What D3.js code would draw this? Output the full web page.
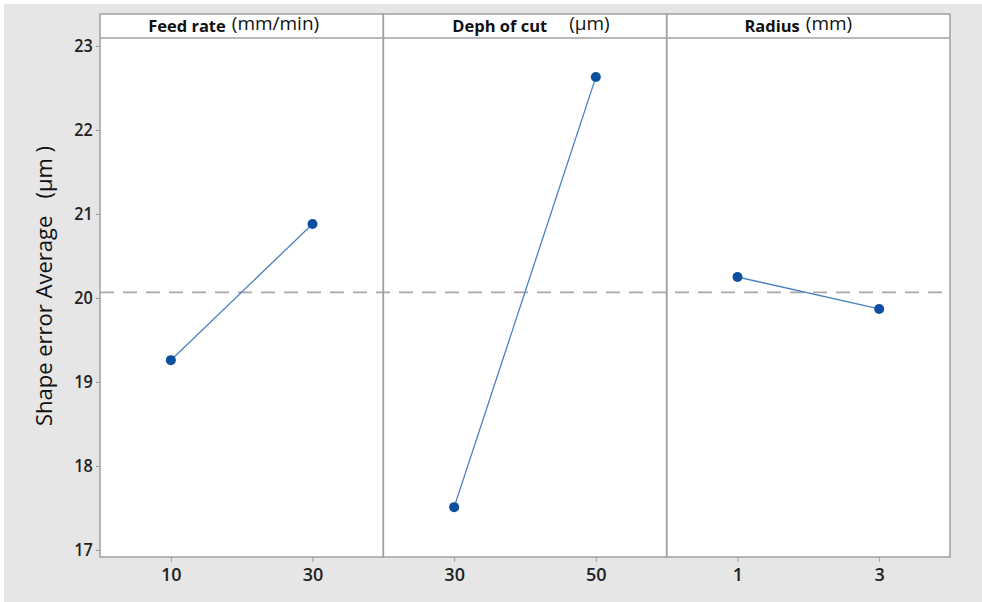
<!DOCTYPE html>
<html>
<head>
<meta charset="utf-8">
<script src="https://cdn.jsdelivr.net/npm/d3@7"></script>
<style>
  body { margin: 0; background: #fff; }
  svg text { font-family: "Open Sans", "Noto Sans", sans-serif; }
</style>
</head>
<body>
<div id="plot"></div>
<script>
// main effects data
const factors = ["Feed rate", "Deph of cut", "Radius"];
const units = ["(mm/min)", "(\u00b5m)", "(mm)"];
const levels = [["10", "30"], ["30", "50"], ["1", "3"]];
const means = [[19.26, 20.88], [17.51, 22.63], [20.25, 19.87]];
const yTicks = [17, 18, 19, 20, 21, 22, 23];

const W = 982, H = 602;
// plot frame
let margin = {top: 14, left: 100, right: 32, bottom: 45};
let stripH = 24;
let width = W - margin.left - margin.right;
let height = H - margin.top - margin.bottom;

let svg = d3.select("#plot")
	.append("svg")
		.attr("width", W)
		.attr("height", H);

// grey backdrop (white sliver on top and left)
svg.append("rect")
	.attr("x", 4).attr("y", 4)
	.attr("width", W - 4).attr("height", H - 4)
	.attr("fill", "#e6e6e6");

let g = svg.append("g")
	.attr("transform", "translate(" + margin.left + "," + margin.top + ")");

g.append("rect")
	.attr("width", width).attr("height", height)
	.attr("fill", "white");

let panel = d3.scaleBand()
	.domain(factors)
	.range([0, width]);

let y = d3.scaleLinear()
	.domain([17, 23])
	.range([536, 32]);

let grand = d3.mean(means.flat());

// y axis
let yAxis = g.append("g")
	.call(d3.axisLeft(y).tickValues(yTicks).tickSize(4).tickPadding(4).tickFormat(d3.format("d")));
yAxis.select(".domain").remove();
yAxis.selectAll("line").attr("stroke", "#999");
yAxis.selectAll("text").attr("font-size", 18).attr("font-weight", 600).attr("fill", "#222")
	.attr("transform", "scale(0.9,1)");

// reference line at grand mean
g.append("line")
	.attr("x1", 0).attr("x2", width)
	.attr("y1", y(grand)).attr("y2", y(grand))
	.attr("stroke", "#a8a8a8")
	.attr("stroke-width", 1.6)
	.attr("stroke-dasharray", "14,9");

factors.forEach((f, i) => {
	let x0 = panel(f);
	let pg = g.append("g").attr("transform", "translate(" + x0 + ",0)");
	let x = d3.scalePoint()
		.domain(levels[i])
		.range([0, panel.bandwidth()])
		.padding(0.5);

	let xAxis = pg.append("g")
		.attr("transform", "translate(0," + height + ")")
		.call(d3.axisBottom(x).tickSize(5).tickPadding(6));
	xAxis.select(".domain").remove();
	xAxis.selectAll("line").attr("stroke", "#999");
	xAxis.selectAll("text").attr("font-size", 18).attr("font-weight", 600).attr("fill", "#222");

	let pts = levels[i].map((l, j) => [x(l), y(means[i][j])]);
	pg.append("path")
		.attr("d", d3.line()(pts))
		.attr("fill", "none")
		.attr("stroke", "#4b80c3")
		.attr("stroke-width", 1.3);
	pg.selectAll("circle")
		.data(pts)
		.enter()
		.append("circle")
			.attr("cx", d => d[0])
			.attr("cy", d => d[1])
			.attr("r", 5)
			.attr("fill", "#0b4f9e");

	// header strip text
	let t = pg.append("text")
		.attr("x", panel.bandwidth() / 2 + (i == 0 ? -8 : i == 2 ? -10 : 6))
		.attr("y", 18)
		.attr("text-anchor", "middle")
		.attr("fill", "#111");
	t.append("tspan").attr("font-weight", "bold").attr("font-size", 16.5).text(f);
	t.append("tspan").attr("font-size", 19).attr("dx", i == 1 ? 22 : 6).attr("dy", -2).text(units[i]);

	// panel border
	pg.append("rect")
		.attr("width", panel.bandwidth()).attr("height", height)
		.attr("fill", "none")
		.attr("stroke", "#a0a0a0")
		.attr("stroke-width", 1.5);
});

// header strip divider
g.append("line")
	.attr("x1", 0).attr("x2", width)
	.attr("y1", stripH).attr("y2", stripH)
	.attr("stroke", "#a0a0a0")
	.attr("stroke-width", 1.5);

// y label
svg.append("text")
	.attr("transform", "translate(52,286) rotate(-90)")
	.attr("text-anchor", "middle")
	.attr("font-size", 22)
	.attr("font-weight", 500)
	.attr("fill", "#111")
	.style("white-space", "pre")
	.text("Shape error Average   (\u00b5m )");
</script>
</body>
</html>
